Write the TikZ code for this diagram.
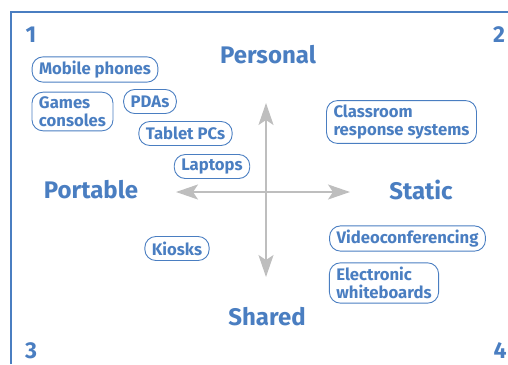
\documentclass[tikz,border=0pt]{standalone}
\usepackage{fontspec}
\setmainfont{Fira Sans}
\usetikzlibrary{arrows.meta}
\definecolor{dblue}{RGB}{74,126,193}
\definecolor{lgrey}{RGB}{190,190,190}

\begin{document}
\begin{tikzpicture} [x=1pt, y=-1pt, every node/.style={text=dblue, font=\bfseries},
  big/.style={font=\fontsize{24}{28}\selectfont\bfseries},
  num/.style={font=\fontsize{23}{27}\selectfont\bfseries},
  box/.style={draw=dblue, line width=0.9pt, rounded corners=11pt, inner xsep=7pt, inner ysep=4pt,
    minimum height=24pt, align=left, font=\fontsize{16.7}{18.5}\selectfont\bfseries},
  axis/.style={draw=lgrey, line width=2pt, {Stealth[length=22pt,width=15pt,inset=5pt]}-{Stealth[length=22pt,width=15pt,inset=5pt]}}]
\useasboundingbox (0,0) rectangle (508,364);
\draw[dblue, line width=2pt] (11,364) -- (11,12) -- (508,12);
% corner numbers
\node[num] (n1) at (31,35) {1};
\node[num] (n2) at (499,35) {2};
\node[num] (n3) at (31,351) {3};
\node[num] (n4) at (500,351) {4};
% axes
\coordinate (up) at (266,103);
\coordinate (dn) at (266,277);
\coordinate (lt) at (176,192);
\coordinate (rt) at (350,192);
\draw[axis] (dn) -- (up);
\draw[axis] (lt) -- (rt);
\node[big] (pers) at (268,55) {Personal};
\node[big] (port) at (91,190) {Portable};
\node[big] (stat) at (421,190) {Static};
\node[big] (shar) at (267,317) {Shared};
% devices
\node[box] (mob) at (95,69.5) {Mobile phones};
\node[box] (gam) at (72.5,111.5) {Games\\consoles};
\node[box] (pda) at (150,101.5) {PDAs};
\node[box] (tab) at (185.5,133.5) {Tablet PCs};
\node[box] (lap) at (212,166.5) {Laptops};
\node[box] (cls) at (401.5,122) {Classroom\\response systems};
\node[box] (kio) at (177,248.5) {Kiosks};
\node[box] (vid) at (407.5,238.5) {Videoconferencing};
\node[box] (ele) at (384,283) {Electronic\\whiteboards};
\end{tikzpicture}
\end{document}
